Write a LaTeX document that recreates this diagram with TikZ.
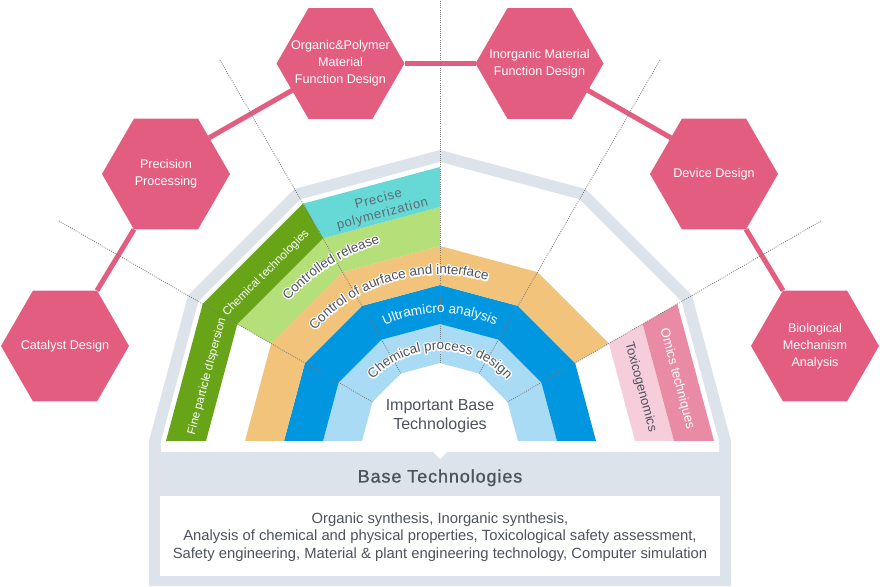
\documentclass[tikz,border=0pt]{standalone}
\usepackage{fontspec}
\setmainfont{Liberation Sans}
\newfontfamily\medfont[FakeBold=1,LetterSpace=5]{Liberation Sans}
\newfontfamily\spacedfont[LetterSpace=6]{Liberation Sans}
\usetikzlibrary{calc,decorations.text}
\definecolor{hexpink}{HTML}{E35D80}
\definecolor{dgreen}{HTML}{67A417}
\definecolor{lgreen}{HTML}{B5DF78}
\definecolor{cyanb}{HTML}{66D9D6}
\definecolor{orangeb}{HTML}{F2C37B}
\definecolor{dblue}{HTML}{0096E0}
\definecolor{lblue}{HTML}{A9DBF5}
\definecolor{lpink}{HTML}{F6CEDB}
\definecolor{mpink}{HTML}{E98BA4}
\definecolor{framegray}{HTML}{DCE3EA}
\definecolor{txtgray}{HTML}{4D525C}
\definecolor{softgray}{HTML}{5E6A74}
\definecolor{dotgray}{HTML}{7A7A7A}
\newcommand\bandfont{\fontsize{13.5}{16}\selectfont}
\newcommand\halostroke{\special{pdf:literal direct 2.8 w 1 j 1 J 1 Tr}}
\newcommand\plainlabel[5]{%
  \path[decorate,decoration={text along path,text align=center,
      text={|\bandfont\color{#5}|#4}}] (#2:#1) arc[start angle=#2,end angle=#3,radius=#1];
}
\newcommand\halolabel[4]{%
  \path[decorate,decoration={text along path,text align=center,
      text={|\bandfont\color{white}\halostroke|#4}}] (#2:#1) arc[start angle=#2,end angle=#3,radius=#1];
  \plainlabel{#1}{#2}{#3}{#4}{txtgray}%
}
\begin{document}
\begin{tikzpicture}[x=1pt,y=1pt,
  hexfill/.style={fill=hexpink},
  hexlabel/.style={text=white,align=center,font=\fontsize{12.6}{17}\selectfont,inner sep=0pt},
  conn/.style={draw=hexpink,line width=5pt},
  dotline/.style={draw=dotgray,line width=0.85pt,dash pattern=on 0.85pt off 1.3pt}]
\useasboundingbox (0,0) rectangle (880,586);
\fill[white] (0,0) rectangle (880,586);

\begin{scope}[shift={(440,145)}]
% frame
\fill[framegray] (0:291) -- (30:291) -- (60:291) -- (90:291) -- (120:291) -- (150:291) -- (180:291)
  -- (-291,-145) -- (291,-145) -- cycle;
\fill[white] (0:279) -- (30:279) -- (60:279) -- (90:279) -- (120:279) -- (150:279) -- (180:279)
  -- (-279,-11) -- (-7,-11) -- (0,-18) -- (7,-11) -- (279,-11) -- cycle;
\fill[white] (-280,-55) rectangle (280,-135);
% bands
\fill[lblue] (0:117)--(30:117)--(60:117)--(90:117)--(120:117)--(150:117)--(180:117)
  --(180:78)--(150:78)--(120:78)--(90:78)--(60:78)--(30:78)--(0:78)--cycle;
\fill[dblue] (0:156)--(30:156)--(60:156)--(90:156)--(120:156)--(150:156)--(180:156)
  --(180:117)--(150:117)--(120:117)--(90:117)--(60:117)--(30:117)--(0:117)--cycle;
\fill[orangeb] (30:195)--(60:195)--(90:195)--(120:195)--(150:195)--(180:195)
  --(180:156)--(150:156)--(120:156)--(90:156)--(60:156)--(30:156)--cycle;
\fill[lgreen] (90:234)--(120:234)--(150:234)--(150:195)--(120:195)--(90:195)--cycle;
\fill[cyanb] (90:274)--(120:274)--(120:234)--(90:234)--cycle;
\fill[dgreen] (120:274)--(150:274)--(180:274)--(180:234)--(150:234)--(120:234)--cycle;
\fill[lpink] (0:234)--(30:234)--(30:195)--(0:195)--cycle;
\fill[mpink] (0:274)--(30:274)--(30:234)--(0:234)--cycle;
\end{scope}

% hexagon centres
\coordinate (cat) at (65,240);
\coordinate (prec) at (166,412);
\coordinate (org) at (340.5,522.5);
\coordinate (inorg) at (539.5,522.5);
\coordinate (dev) at (714,412);
\coordinate (bio) at (815,240);
% connectors
\draw[conn] ($(cat)+(60:64)$) -- ($(prec)+(240:64)$);
\draw[conn] ($(prec)+(40:56.3)$) -- ($(org)+(209:55.4)$);
\draw[conn] ($(org)+(0:64)$) -- ($(inorg)+(180:64)$);
\draw[conn] ($(inorg)+(331:55.4)$) -- ($(dev)+(140:56.3)$);
\draw[conn] ($(dev)+(300:64)$) -- ($(bio)+(120:64)$);
% hexagons
\foreach \h in {cat,prec,org,inorg,dev,bio}
  \fill[hexfill,shift={(\h)}] (0:64) -- (60:64) -- (120:64) -- (180:64) -- (240:64) -- (300:64) -- cycle;
\node[hexlabel] (catlbl) at (cat) {Catalyst Design};
\node[hexlabel] (preclbl) at (prec) {Precision\\Processing};
\node[hexlabel] (orglbl) at (org) {Organic\&Polymer\\Material\\Function Design};
\node[hexlabel] (inorglbl) at (inorg) {Inorganic Material\\Function Design};
\node[hexlabel] (devlbl) at (dev) {Device Design};
\node[hexlabel] (biolbl) at (bio) {Biological\\Mechanism\\Analysis};

\begin{scope}[shift={(440,145)}]
% dotted radial lines
\foreach \a in {30,60,120,150} \draw[dotline] (\a:78) -- (\a:440);
\draw[dotline] (90:78) -- (90:441);
% band labels
\halolabel{207}{152}{92}{Controlled release}
\halolabel{167}{151}{61}{Control of aurface and interface}
\halolabel{91}{150}{30}{Chemical process design}
\plainlabel{128}{140}{40}{Ultramicro analysis}{white}
\path[decorate,decoration={text along path,text align={left indent=6pt},
  text={|\fontsize{11.6}{14}\selectfont\color{white}|Fine particle dIspersion Chemical technologies}}]
  (180:247) -- (150:247) -- (120:247);
\end{scope}

\node[rotate=15,align=center,text=softgray,font=\spacedfont\fontsize{13}{15.5}\selectfont] (pp) at (380.5,379) {Precise\\polymerization};
\node[rotate=-75,text=txtgray,font=\fontsize{13}{15}\selectfont] (tox) at (640.5,199) {Toxicogenomics};
\node[rotate=-75,text=white,font=\fontsize{13}{15}\selectfont] (omics) at (677,207) {Omics techniques};
\node[align=center,text=txtgray,font=\fontsize{16}{19}\selectfont] (ibt) at (440,169.5) {Important Base\\Technologies};
\node[anchor=base,text=txtgray,font=\medfont\fontsize{18}{20}\selectfont] (bt) at (440,103.5) {Base Technologies};
\node[align=center,text=txtgray,font=\fontsize{14.8}{17.6}\selectfont] (bdesc) at (440,49) {Organic synthesis, Inorganic synthesis,\\Analysis of chemical and physical properties, Toxicological safety assessment,\\Safety engineering, Material \& plant engineering technology, Computer simulation};
\end{tikzpicture}
\end{document}
